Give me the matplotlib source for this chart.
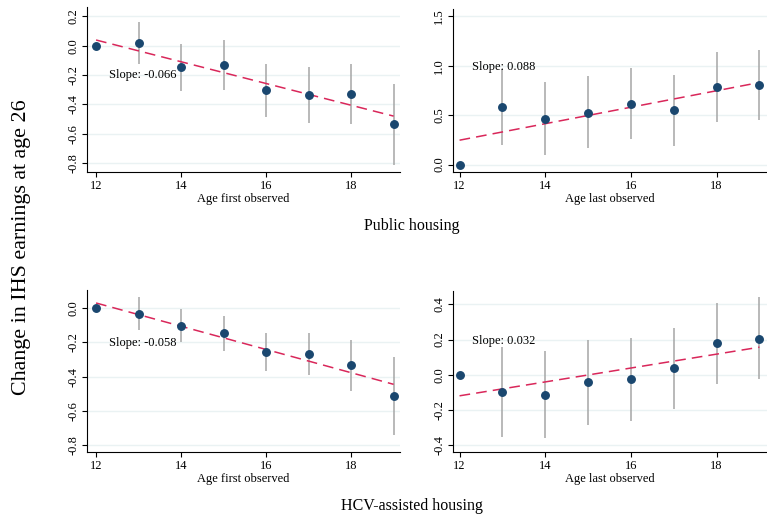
import numpy as np
import matplotlib
matplotlib.use("Agg")
import matplotlib.pyplot as plt

plt.rcParams['font.family'] = ['Liberation Serif', 'DejaVu Serif']
plt.rcParams['axes.unicode_minus'] = False

ages = [12, 13, 14, 15, 16, 17, 18, 19]

# public housing, age first observed
pub_first = [0.0, 0.018, -0.145, -0.13, -0.305, -0.334, -0.33, -0.536]
pub_first_lo = [0.0, -0.125, -0.307, -0.30, -0.484, -0.525, -0.534, -0.811]
pub_first_hi = [0.0, 0.161, 0.014, 0.039, -0.125, -0.143, -0.125, -0.261]
pub_first_fit = [0.039, -0.48]

# public housing, age last observed
pub_last = [0.0, 0.581, 0.463, 0.527, 0.618, 0.551, 0.787, 0.804]
pub_last_lo = [0.0, 0.203, 0.101, 0.169, 0.264, 0.193, 0.436, 0.449]
pub_last_hi = [0.0, 0.966, 0.831, 0.892, 0.976, 0.905, 1.142, 1.162]
pub_last_fit = [0.247, 0.831]

# HCV, age first observed
hcv_first = [0.0, -0.031, -0.101, -0.146, -0.256, -0.269, -0.334, -0.513]
hcv_first_lo = [0.0, -0.127, -0.199, -0.248, -0.367, -0.392, -0.484, -0.743]
hcv_first_hi = [0.0, 0.064, -0.006, -0.043, -0.144, -0.146, -0.183, -0.287]
hcv_first_fit = [0.031, -0.445]

# HCV, age last observed
hcv_last = [0.0, -0.096, -0.113, -0.043, -0.025, 0.040, 0.179, 0.206]
hcv_last_lo = [0.0, -0.351, -0.358, -0.283, -0.26, -0.194, -0.051, -0.026]
hcv_last_hi = [0.0, 0.158, 0.136, 0.196, 0.209, 0.268, 0.409, 0.44]
hcv_last_fit = [-0.119, 0.157]

slopes = ["-0.066", "0.088", "-0.058", "0.032"]

W, H = 767, 519
fig = plt.figure(figsize=(W / 100, H / 100), dpi=100)


def px_axes(x0, y0, x1, y1):
    # pixel box (top-left origin) -> figure fractions
    return fig.add_axes([x0 / W, 1 - y1 / H, (x1 - x0) / W, (y1 - y0) / H])


def panel(ax, y, lo, hi, fit, slope, text_y, ylim, yticks, xlab, xlim):
    ax.set_xlim(*xlim)
    ax.set_ylim(*ylim)
    ax.set_yticks(yticks)
    ax.set_yticklabels(["%.1f" % t for t in yticks], rotation=90, va='center', fontsize=9)
    ax.set_xticks([12, 14, 16, 18])
    ax.tick_params(axis='x', labelsize=9, pad=2)
    ax.tick_params(axis='y', pad=2)
    for t in yticks:
        ax.axhline(t, color='#eaf2f3', lw=1, zorder=0)
    for s in ['top', 'right']:
        ax.spines[s].set_visible(False)
    ax.vlines(ages, lo, hi, color='#a6a6a6', lw=1.1, zorder=1)
    ax.plot([ages[0], ages[-1]], fit, color='#d9275a', lw=1.1, dashes=(7, 4), zorder=2)
    ax.plot(ages, y, 'o', color='#1a476f', ms=5.4, zorder=3)
    ax.text(12.3, text_y, "Slope: " + slope, fontsize=9, va='center', ha='left')
    ax.set_xlabel(xlab, fontsize=9, labelpad=1)


ax1 = px_axes(86.7, 7, 400, 172)
panel(ax1, pub_first, pub_first_lo, pub_first_hi, pub_first_fit, slopes[0], -0.2,
      (-0.861, 0.264), [0.2, 0.0, -0.2, -0.4, -0.6, -0.8], "Age first observed", (11.78, 19.15))

ax2 = px_axes(452.7, 9, 766.7, 172)
panel(ax2, pub_last, pub_last_lo, pub_last_hi, pub_last_fit, slopes[1], 0.99,
      (-0.075, 1.575), [0.0, 0.5, 1.0, 1.5], "Age last observed", (11.84, 19.17))

ax3 = px_axes(86.7, 290, 400, 452)
panel(ax3, hcv_first, hcv_first_lo, hcv_first_hi, hcv_first_fit, slopes[2], -0.205,
      (-0.841, 0.107), [0.0, -0.2, -0.4, -0.6, -0.8], "Age first observed", (11.78, 19.15))

ax4 = px_axes(452.7, 291, 766.7, 452)
panel(ax4, hcv_last, hcv_last_lo, hcv_last_hi, hcv_last_fit, slopes[3], 0.194,
      (-0.438, 0.476), [0.4, 0.2, 0.0, -0.2, -0.4], "Age last observed", (11.84, 19.17))

fig.text(411.7 / W, 1 - 226 / H, "Public housing", ha='center', va='center', fontsize=11.5)
fig.text(411.7 / W, 1 - 506 / H, "HCV-assisted housing", ha='center', va='center', fontsize=11.5)
fig.text(22 / W, 1 - 247 / H, "Change in IHS earnings at age 26", rotation=90,
         ha='center', va='center', fontsize=15.8)

fig.savefig("out.png", dpi=100)
